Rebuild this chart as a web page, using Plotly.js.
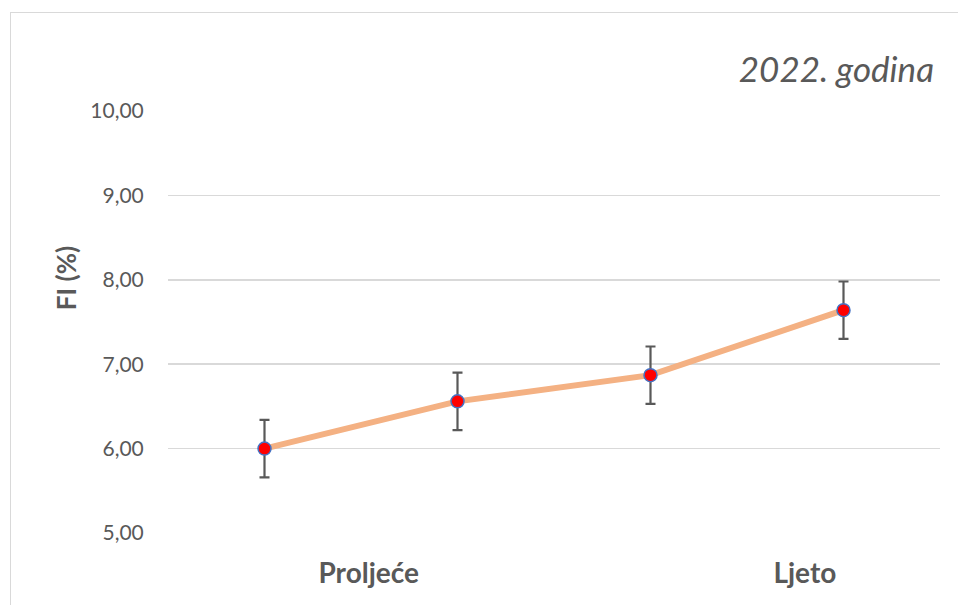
<!DOCTYPE html>
<html>
<head>
<meta charset="utf-8">
<script src="https://cdn.plot.ly/plotly-3.0.1.min.js"></script>
<style>
  html, body { margin: 0; padding: 0; background: #fff; overflow: hidden; }
  #wrap { position: relative; width: 958px; height: 605px; }
  #chart { position: absolute; left: 0; top: 0; width: 958px; height: 605px; }
  #frame { position: absolute; left: 10px; top: 12px; width: 1000px; height: 700px;
           border: 1.5px solid #d9d9d9; pointer-events: none; box-sizing: border-box; }
</style>
</head>
<body>
<div id="wrap">
  <div id="chart"></div>
  <div id="frame"></div>
</div>
<script>
// Data
var pointIndex = [0, 1, 2, 3];
var fiValues = [6.00, 6.56, 6.87, 7.64];
var fiErrors = [0.34, 0.34, 0.34, 0.34];
var seasonLabels = ["Proljeće", "Ljeto"];
var yTickVals = [5, 6, 7, 8, 9, 10];
var yTickText = ["5,00", "6,00", "7,00", "8,00", "9,00", "10,00"];
var yTitle = "FI (%)";
var chartTitle = "2022. godina";

var FONT = "Lato, 'Open Sans', sans-serif";
var GRAY = "#595959";

var trace = {
  x: pointIndex,
  y: fiValues,
  type: "scatter",
  mode: "lines+markers",
  line: { color: "#f4b183", width: 6 },
  marker: { color: "#ff0000", size: 13, line: { color: "#4472c4", width: 1.5 } },
  error_y: { type: "data", array: fiErrors, visible: true, color: GRAY, thickness: 2.2, width: 5 },
  hoverinfo: "skip"
};

var layout = {
  width: 958,
  height: 605,
  margin: { l: 168, r: 18, t: 111, b: 72 },
  paper_bgcolor: "#ffffff",
  plot_bgcolor: "#ffffff",
  showlegend: false,
  font: { family: FONT, color: GRAY },
  title: {
    text: "<i>" + chartTitle + "</i>",
    font: { family: FONT, size: 35, color: GRAY },
    xref: "container", yref: "container",
    x: 0.975, xanchor: "right",
    y: 0.885, yanchor: "middle"
  },
  xaxis: {
    range: [-0.5, 3.5],
    tickmode: "array",
    tickvals: [0.54, 2.8],
    ticktext: seasonLabels,
    tickfont: { family: FONT, size: 28, color: GRAY, weight: "bold" },
    showgrid: false,
    zeroline: false,
    showline: false,
    ticks: "outside",
    ticklen: 15,
    tickcolor: "rgba(0,0,0,0)",
    fixedrange: true
  },
  yaxis: {
    range: [5, 10],
    tickmode: "array",
    tickvals: yTickVals,
    ticktext: yTickText,
    tickfont: { family: FONT, size: 21, color: GRAY },
    showgrid: true,
    gridcolor: "#d9d9d9",
    gridwidth: 1.5,
    zeroline: false,
    showline: false,
    ticks: "outside",
    ticklen: 19,
    tickcolor: "rgba(0,0,0,0)",
    automargin: false,
    fixedrange: true
  },
  annotations: [{
    text: "<b>" + yTitle + "</b>",
    xref: "paper", yref: "paper",
    x: -0.132, y: 0.604,
    xanchor: "center", yanchor: "middle",
    textangle: -90,
    showarrow: false,
    font: { family: FONT, size: 26, color: GRAY }
  }]
};

Plotly.newPlot("chart", [trace], layout, { staticPlot: true, displayModeBar: false });
</script>
</body>
</html>
